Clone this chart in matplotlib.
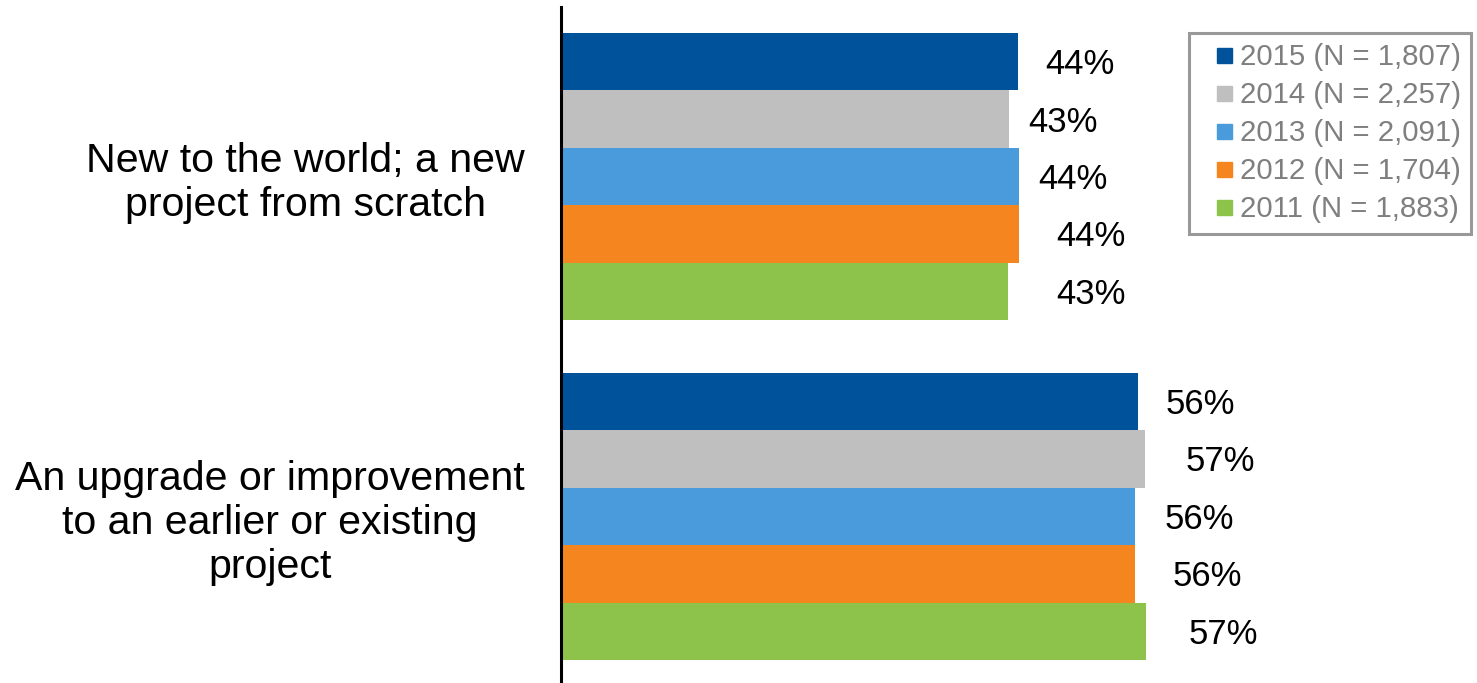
import matplotlib.pyplot as plt
from matplotlib.lines import Line2D
from matplotlib.transforms import ScaledTranslation
import numpy as np

plt.rcParams['font.family'] = ['Liberation Sans', 'DejaVu Sans']

# survey answers, share of respondents (%)
categories = ['New to the world; a new\nproject from scratch',
              'An upgrade or improvement\nto an earlier or existing\nproject']
years = ['2015 (N = 1,807)', '2014 (N = 2,257)', '2013 (N = 2,091)',
         '2012 (N = 1,704)', '2011 (N = 1,883)']
new_project = [44.3, 43.4, 44.4, 44.4, 43.3]
upgrade = [55.9, 56.6, 55.6, 55.6, 56.7]

colors = ['#00529b', '#bfbfbf', '#4a9bdc', '#f5861f', '#8dc24b']
# extra gap (px) between bar end and its value label
pad_new = [27, 20, 19, 37, 49]
pad_upg = [28, 41, 30, 38, 43]

fig = plt.figure(figsize=(14.77, 6.83), dpi=100)
ax = fig.add_axes([561 / 1477, 0, 1 - 561 / 1477, 1 - 7 / 683])

y = np.arange(len(categories))
h = 0.169
for k, (lab, col) in enumerate(zip(years, colors)):
    vals = [new_project[k], upgrade[k]]
    pads = [pad_new[k], pad_upg[k]]
    pos = y + (k - 2) * h
    ax.barh(pos, vals, height=h, color=col, label=lab)
    for yy, v, p in zip(pos, vals, pads):
        ax.annotate('{:.0f}%'.format(v), (v, yy), xytext=(p, -3),
                    textcoords='offset pixels', ha='left', va='center',
                    fontsize=25, color='black')

ax.set_ylim(1.49, -0.4985)
ax.set_xlim(0, 88.8)
ax.set_yticks(y)
ax.set_yticklabels(categories, fontsize=29.6, linespacing=1.2)
# nudge the category text up a little
lift = ScaledTranslation(0, 3 / 100, fig.dpi_scale_trans)
for t in ax.get_yticklabels():
    t.set_multialignment('center')
    t.set_transform(t.get_transform() + lift)
ax.tick_params(axis='y', length=0, pad=26)
ax.set_xticks([])
for s in ['top', 'right', 'bottom']:
    ax.spines[s].set_visible(False)
ax.spines['left'].set_linewidth(2.2)
ax.spines['left'].set_color('black')

# square swatches for the legend
handles = [Line2D([], [], linestyle='none', marker='s', markersize=10.8,
                  markerfacecolor=c, markeredgecolor=c) for c in colors]
leg = ax.legend(handles, years, loc='upper left',
                bbox_to_anchor=(1189 / 1477, 1 - 33 / 683),
                bbox_transform=fig.transFigure, fontsize=21.2,
                frameon=True, fancybox=False, handlelength=1.68,
                handletextpad=-0.3, labelspacing=0.34,
                borderpad=0.35, borderaxespad=0)
leg.get_frame().set_edgecolor('#808080')
leg.get_frame().set_linewidth(2.2)
for t in leg.get_texts():
    t.set_color('#7f7f7f')

fig.savefig('out.png', dpi=100)
